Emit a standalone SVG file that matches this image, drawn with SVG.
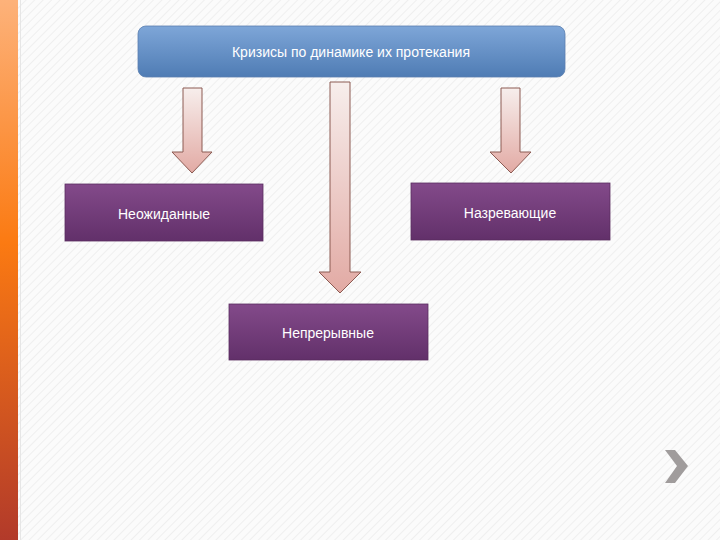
<svg xmlns="http://www.w3.org/2000/svg" width="720" height="540" viewBox="0 0 720 540">
<defs>
<linearGradient id="side" x1="0" y1="0" x2="0" y2="1"><stop offset="0" stop-color="#fdb27a"/><stop offset="0.45" stop-color="#fb7a12"/><stop offset="1" stop-color="#b23a2a"/></linearGradient>
<linearGradient id="blue" x1="0" y1="0" x2="0" y2="1"><stop offset="0" stop-color="#7ea6d8"/><stop offset="1" stop-color="#4f7cb4"/></linearGradient>
<linearGradient id="purp" x1="0" y1="0" x2="0" y2="1"><stop offset="0" stop-color="#834a8a"/><stop offset="1" stop-color="#62306a"/></linearGradient>
<linearGradient id="arr" x1="0" y1="0" x2="0" y2="1"><stop offset="0" stop-color="#f7eeec"/><stop offset="1" stop-color="#e2aaa4"/></linearGradient>
<pattern id="hatch" width="6" height="6" patternUnits="userSpaceOnUse" patternTransform="rotate(45)"><rect width="6" height="6" fill="#fbfbfb"/><line x1="0" y1="0" x2="0" y2="6" stroke="#ececec" stroke-width="1.5"/></pattern>
</defs>
<style>
.box{stroke:#5a2d60;stroke-width:0.8}
.t{font-family:"Liberation Sans",Arial,sans-serif;font-size:14px;fill:#ffffff;text-anchor:middle}
.a{fill:url(#arr);stroke:#8c5a52;stroke-width:1}
</style>
<rect width="720" height="540" fill="url(#hatch)"/>
<rect x="0" y="0" width="18" height="540" fill="url(#side)"/>
<line x1="20.5" y1="0" x2="20.5" y2="540" stroke="#e6e6e6" stroke-width="1"/>
<g id="connectors">
<path class="a" d="M183 88H202V152H212L192 173L172 152H183Z"/>
<path class="a" d="M330 82H350V272H361L340 293L319 272H330Z"/>
<path class="a" d="M501 88H520V152H531L511 173L490 152H501Z"/>
</g>
<g id="n-top"><rect x="138" y="26" width="427" height="51" rx="8" fill="url(#blue)" stroke="#5b7fb0" stroke-width="0.8"/><text class="t" x="351" y="57">Кризисы по динамике их протекания</text></g>
<g id="n-left"><rect class="box" x="65" y="184" width="198" height="57" fill="url(#purp)"/><text class="t" x="164" y="219">Неожиданные</text></g>
<g id="n-right"><rect class="box" x="411" y="183" width="199" height="57" fill="url(#purp)"/><text class="t" x="510" y="218">Назревающие</text></g>
<g id="n-bottom"><rect class="box" x="229" y="304" width="199" height="56" fill="url(#purp)"/><text class="t" x="328" y="338">Непрерывные</text></g>
<path d="M665 450H675L688 466L675 483H665L677 466Z" fill="#a09c9c"/>
</svg>
